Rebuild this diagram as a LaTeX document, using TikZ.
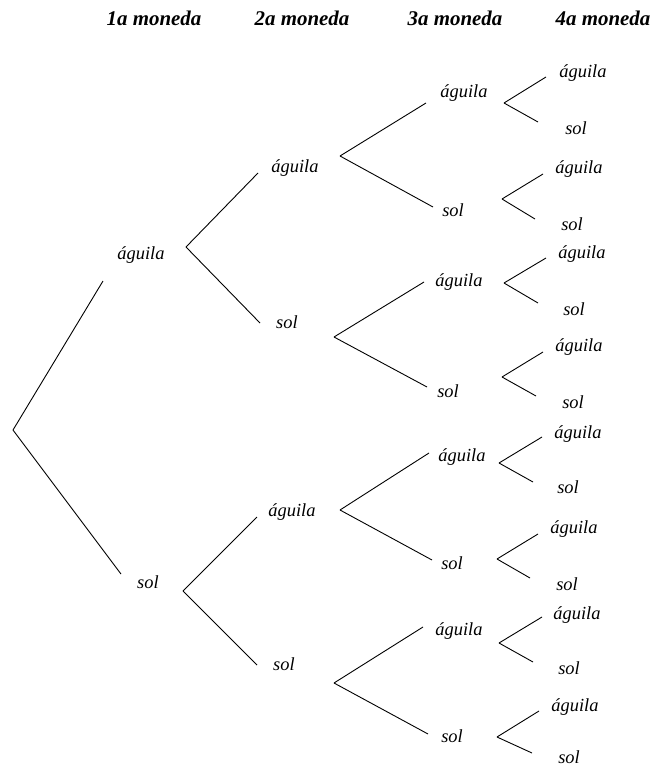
\documentclass[tikz,border=0pt]{standalone}
\usepackage{fontspec}
\setmainfont{Liberation Serif}

\begin{document}
\begin{tikzpicture}[x=1bp,y=-1bp,line width=0.9bp,
  lbl/.style={inner sep=0pt,font=\fontsize{18.5}{22}\selectfont\itshape},
  head/.style={inner sep=0pt,font=\fontsize{21}{25}\selectfont\bfseries\itshape}]
\useasboundingbox (0,0) rectangle (657,767);
\node[head] (h1) at (154,18) {1a moneda};
\node[head] (h2) at (302,18) {2a moneda};
\node[head] (h3) at (455,18) {3a moneda};
\node[head] (h4) at (603,18) {4a moneda};
% first coin
\coordinate (root) at (13,430);
\node[lbl] (a) at (141,255) {águila};
\node[lbl] (s) at (148,582) {sol};
\coordinate (a-t) at (103,281);
\coordinate (s-t) at (121,574);
\draw (root) -- (a-t);
\draw (root) -- (s-t);
% second coin
\coordinate (a-v) at (186,247);
\coordinate (s-v) at (183,591);
\node[lbl] (aa) at (295,168) {águila};
\node[lbl] (as) at (287,322) {sol};
\node[lbl] (sa) at (292,512) {águila};
\node[lbl] (ss) at (284,664) {sol};
\coordinate (aa-t) at (258,173);
\coordinate (as-t) at (260,323);
\coordinate (sa-t) at (257,517);
\coordinate (ss-t) at (257,665);
\draw (a-v) -- (aa-t);
\draw (a-v) -- (as-t);
\draw (s-v) -- (sa-t);
\draw (s-v) -- (ss-t);
% third coin
\coordinate (aa-v) at (340,156);
\coordinate (as-v) at (334,337);
\coordinate (sa-v) at (340,510);
\coordinate (ss-v) at (334,683);
\node[lbl] (aaa) at (464,93) {águila};
\node[lbl] (aas) at (453,210) {sol};
\node[lbl] (asa) at (459,282) {águila};
\node[lbl] (ass) at (448,391) {sol};
\node[lbl] (saa) at (462,457) {águila};
\node[lbl] (sas) at (452,563) {sol};
\node[lbl] (ssa) at (459,631) {águila};
\node[lbl] (sss) at (452,736) {sol};
\coordinate (aaa-t) at (426,103);
\coordinate (aas-t) at (433,207);
\coordinate (asa-t) at (424,282);
\coordinate (ass-t) at (427,387);
\coordinate (saa-t) at (429,453);
\coordinate (sas-t) at (432,560);
\coordinate (ssa-t) at (423,627);
\coordinate (sss-t) at (428,734);
\draw (aa-v) -- (aaa-t);
\draw (aa-v) -- (aas-t);
\draw (as-v) -- (asa-t);
\draw (as-v) -- (ass-t);
\draw (sa-v) -- (saa-t);
\draw (sa-v) -- (sas-t);
\draw (ss-v) -- (ssa-t);
\draw (ss-v) -- (sss-t);
% fourth coin
\coordinate (aaa-v) at (504,103);
\coordinate (aas-v) at (502,199);
\coordinate (asa-v) at (504,283);
\coordinate (ass-v) at (502,377);
\coordinate (saa-v) at (499,463);
\coordinate (sas-v) at (497,559);
\coordinate (ssa-v) at (499,643);
\coordinate (sss-v) at (497,737);
\node[lbl] (aaaa) at (583,73) {águila};
\node[lbl] (aaas) at (576,128) {sol};
\node[lbl] (aasa) at (579,169) {águila};
\node[lbl] (aass) at (572,224) {sol};
\node[lbl] (asaa) at (582,254) {águila};
\node[lbl] (asas) at (574,309) {sol};
\node[lbl] (assa) at (579,347) {águila};
\node[lbl] (asss) at (573,402) {sol};
\node[lbl] (saaa) at (578,434) {águila};
\node[lbl] (saas) at (568,487) {sol};
\node[lbl] (sasa) at (574,529) {águila};
\node[lbl] (sass) at (567,584) {sol};
\node[lbl] (ssaa) at (577,615) {águila};
\node[lbl] (ssas) at (569,668) {sol};
\node[lbl] (sssa) at (575,707) {águila};
\node[lbl] (ssss) at (569,757) {sol};
\coordinate (aaaa-t) at (546,77);
\coordinate (aaas-t) at (538,122);
\coordinate (aasa-t) at (543,174);
\coordinate (aass-t) at (535,219);
\coordinate (asaa-t) at (546,258);
\coordinate (asas-t) at (538,303);
\coordinate (assa-t) at (543,352);
\coordinate (asss-t) at (536,396);
\coordinate (saaa-t) at (542,437);
\coordinate (saas-t) at (533,482);
\coordinate (sasa-t) at (538,534);
\coordinate (sass-t) at (530,578);
\coordinate (ssaa-t) at (542,617);
\coordinate (ssas-t) at (533,662);
\coordinate (sssa-t) at (539,711);
\coordinate (ssss-t) at (532,753);
\draw (aaa-v) -- (aaaa-t);
\draw (aaa-v) -- (aaas-t);
\draw (aas-v) -- (aasa-t);
\draw (aas-v) -- (aass-t);
\draw (asa-v) -- (asaa-t);
\draw (asa-v) -- (asas-t);
\draw (ass-v) -- (assa-t);
\draw (ass-v) -- (asss-t);
\draw (saa-v) -- (saaa-t);
\draw (saa-v) -- (saas-t);
\draw (sas-v) -- (sasa-t);
\draw (sas-v) -- (sass-t);
\draw (ssa-v) -- (ssaa-t);
\draw (ssa-v) -- (ssas-t);
\draw (sss-v) -- (sssa-t);
\draw (sss-v) -- (ssss-t);
\end{tikzpicture}
\end{document}
